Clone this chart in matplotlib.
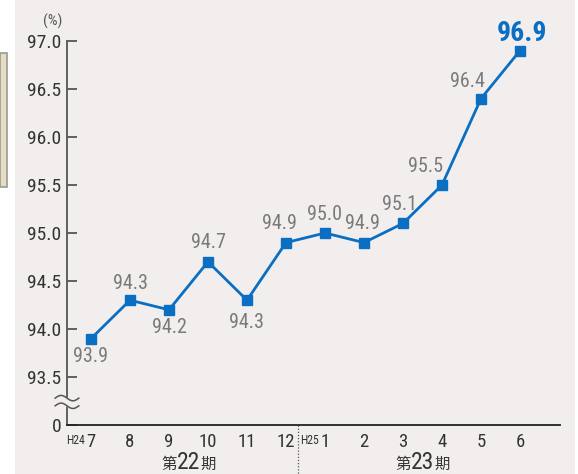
import matplotlib
matplotlib.use("Agg")
import matplotlib.pyplot as plt
import numpy as np
from matplotlib.patches import Rectangle
from matplotlib.transforms import blended_transform_factory

# Monthly values (%)
months = ["7", "8", "9", "10", "11", "12", "1", "2", "3", "4", "5", "6"]
values = [93.9, 94.3, 94.2, 94.7, 94.3, 94.9, 95.0, 94.9, 95.1, 95.5, 96.4, 96.9]
y_ticks = [93.5, 94.0, 94.5, 95.0, 95.5, 96.0, 96.5, 97.0]
y_tick_labels = ["93.5", "94.0", "94.5", "95.0", "95.5", "96.0", "96.5", "97.0"]
period_numbers = ["22", "23"]
year_marks = ["H24", "H25"]

# label offsets in pixels (dx, dy) relative to each point
label_offsets = [(0, -18), (0, 17), (0, -18), (0, 19), (0, -22), (-7, 19),
                 (0, 18), (-2, 19), (-3, 19), (-16, 18), (-14, 17), (2, 10)]

NARROW = ["Roboto Condensed", "Archivo Narrow", "Barlow Semi Condensed", "Liberation Sans", "DejaVu Sans"]
CJK = ["Noto Sans CJK JP", "DejaVu Sans"]
BG = "#f2eeee"
BLUE = "#0a6fc2"
GREY = "#7a7a7a"
DARK = "#333333"

fig = plt.figure(figsize=(5.78, 4.74), dpi=100)
fig.patch.set_facecolor("white")
W, H = 578, 474

# panel background and side tab
fig.add_artist(Rectangle((15 / W, 0), (575 - 15) / W, 1, transform=fig.transFigure,
                         facecolor=BG, edgecolor="none", zorder=0))
fig.add_artist(Rectangle((0, 1 - 187 / H), 7 / W, (187 - 53) / H, transform=fig.transFigure,
                         facecolor="#e6dcc2", edgecolor="#9a9a9a", linewidth=1.2, zorder=0))

ax = fig.add_axes([67 / W, 1 - 425 / H, (560 - 67) / W, (425 - 41) / H])
ax.set_facecolor("none")

x = np.arange(len(values))
ax.plot(x, values, color=BLUE, linewidth=2, marker="s", markersize=6.5,
        markerfacecolor=BLUE, markeredgecolor=BLUE, zorder=3, clip_on=False)

ax.set_xlim(-24 / 39, (560 - 91) / 39)
ax.set_ylim(93.0, 97.0)

ax.set_yticks([93.0] + y_ticks)
ax.set_yticklabels(["0"] + y_tick_labels, fontfamily=NARROW, fontsize=14, color=DARK)
ax.tick_params(axis="y", direction="in", length=7, width=1.3, color="#555555", pad=4)
ax.set_xticks(x)
ax.set_xticklabels(months, fontfamily=NARROW, fontsize=13.5, color=DARK)
ax.tick_params(axis="x", length=0, pad=6)

for s in ["top", "right"]:
    ax.spines[s].set_visible(False)
ax.spines["left"].set_color("#555555")
ax.spines["left"].set_linewidth(1.3)
ax.spines["bottom"].set_color("#222222")
ax.spines["bottom"].set_linewidth(1.3)

# axis break mark
tr = ax.transAxes
wx = np.linspace(-0.024, 0.024, 60)
wave = 0.007 * np.sin((wx + 0.024) / 0.048 * 2 * np.pi)
y1, y2 = 0.070, 0.050
ax.fill_between(wx, y1 + wave, y2 + wave, transform=tr, color=BG, zorder=4, clip_on=False)
ax.plot(wx, y1 + wave, transform=tr, color="#555555", lw=1.1, zorder=5, clip_on=False)
ax.plot(wx, y2 + wave, transform=tr, color="#555555", lw=1.1, zorder=5, clip_on=False)

# value labels
for i, (v, (dx, dy)) in enumerate(zip(values, label_offsets)):
    last = i == len(values) - 1
    if last:
        ax.annotate(f"{v:.1f}", (i, v), xytext=(dx * 0.72, dy * 0.72), textcoords="offset points",
                    ha="center", va="baseline", fontfamily=NARROW, fontsize=20,
                    fontweight="bold", color=BLUE, annotation_clip=False)
    else:
        ax.annotate(f"{v:.1f}", (i, v), xytext=(dx * 0.72, dy * 0.72), textcoords="offset points",
                    ha="center", va="center", fontfamily=NARROW, fontsize=14.5,
                    color=GREY, annotation_clip=False)

# year markers before the first month of each year
bt = blended_transform_factory(ax.transData, ax.transAxes)
for idx, mark in zip([0, 6], year_marks):
    ax.annotate(mark, (idx, 0), xycoords=bt, xytext=(-11.5, -11), textcoords="offset points",
                ha="center", va="center", fontfamily=NARROW, fontsize=8.5, color=DARK,
                annotation_clip=False)

# period separator
ax.plot([5.31, 5.31], [0, -0.13], transform=bt, color="#555555", lw=0.9,
        linestyle=(0, (1, 1.5)), clip_on=False)

# period labels: 第NN期 with a larger number
for cx, num in zip([2.5, 8.5], period_numbers):
    ax.annotate(num, (cx, -0.097), xycoords=bt, ha="center", va="center",
                fontfamily=NARROW, fontsize=17, color=DARK, annotation_clip=False)
    ax.annotate("第", (cx, -0.097), xycoords=bt, xytext=(-8.5, -1.5), textcoords="offset points",
                ha="right", va="center", fontfamily=CJK, fontsize=11, color=DARK,
                annotation_clip=False)
    ax.annotate("期", (cx, -0.097), xycoords=bt, xytext=(8.5, -1.5), textcoords="offset points",
                ha="left", va="center", fontfamily=CJK, fontsize=11, color=DARK,
                annotation_clip=False)

fig.text(53 / W, 1 - 21 / H, "(%)", ha="center", va="center",
         fontfamily=NARROW, fontsize=11, color="#555555")

fig.savefig("out.png", dpi=100, facecolor=fig.get_facecolor())
